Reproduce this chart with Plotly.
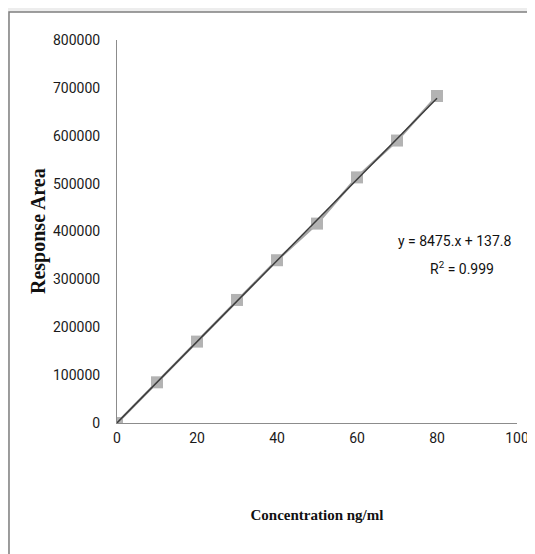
import plotly.graph_objects as go

# Data
concentration = [0, 10, 20, 30, 40, 50, 60, 70, 80]
response_area = [0, 85000, 170000, 257000, 340000, 416500, 513000, 590000, 683000]

# Linear trendline as stated on the chart
slope = 8475.0
intercept = 137.8
trend_x = [0, 80]
trend_y = [slope * x + intercept for x in trend_x]

x_ticks = [0, 20, 40, 60, 80, 100]
y_ticks = [0, 100000, 200000, 300000, 400000, 500000, 600000, 700000, 800000]

# page body has an 8px margin; figure sized to fit the window
OFF = 8
W, H = 535 - OFF, 554 - OFF
L, R, T, B = 117 - OFF, 18, 40 - OFF, 131
pw, ph = W - L - R, H - T - B

def px_x(p):  # p in window pixels
    return (p - OFF - L) / pw

def px_y(p):
    return 1 - (p - OFF - T) / ph

narrow = "Roboto, Liberation Sans, sans-serif"
serif = "Liberation Serif, Times New Roman, serif"

fig = go.Figure()
fig.add_trace(go.Scatter(
    x=concentration, y=response_area, mode="lines+markers",
    line=dict(color="#a6a6a6", width=2.5),
    marker=dict(symbol="square", size=12, color="#b3b3b3"),
    showlegend=False,
))
fig.add_trace(go.Scatter(
    x=trend_x, y=trend_y, mode="lines",
    line=dict(color="#3c3c3c", width=1.5),
    showlegend=False,
))

fig.update_layout(
    width=W, height=H,
    margin=dict(l=L, r=R, t=T, b=B, autoexpand=False),
    paper_bgcolor="#ededed",
    plot_bgcolor="white",
    xaxis=dict(
        range=[0, 100], tickvals=x_ticks, ticktext=[str(v) for v in x_ticks],
        showgrid=False, zeroline=False, showline=True, linecolor="#8c8c8c", linewidth=1,
        ticks="", ticklabelstandoff=2, automargin=False,
        tickfont=dict(family=narrow, size=14, color="#1a1a1a"),
        title=dict(text="<b>Concentration ng/ml</b>", font=dict(family=serif, size=15, color="#111111"),
                   standoff=64),
    ),
    yaxis=dict(
        range=[0, 800000], tickvals=y_ticks, ticktext=[str(v) for v in y_ticks],
        showgrid=False, zeroline=False, showline=True, linecolor="#8c8c8c", linewidth=1,
        ticks="", ticklabelstandoff=13, automargin=False,
        tickfont=dict(family=narrow, size=14, color="#1a1a1a"),
    ),
    shapes=[
        dict(type="rect", xref="paper", yref="paper", layer="below",
             x0=px_x(9), x1=px_x(560), y0=px_y(580), y1=px_y(12),
             fillcolor="white", line=dict(color="#7f7f7f", width=1.5)),
    ],
    annotations=[
        dict(text="<b>Response Area</b>", xref="paper", yref="paper",
             x=px_x(39), y=px_y(231), xanchor="center", yanchor="middle", textangle=-90,
             showarrow=False, font=dict(family=serif, size=20, color="#111111")),
        dict(text="y = 8475.x + 137.8", xref="paper", yref="paper",
             x=px_x(455), y=px_y(241), xanchor="center", yanchor="middle", showarrow=False,
             font=dict(family=narrow, size=14, color="#111111")),
        dict(text="R<sup>2</sup> = 0.999", xref="paper", yref="paper",
             x=px_x(462), y=px_y(268), xanchor="center", yanchor="middle", showarrow=False,
             font=dict(family=narrow, size=14, color="#111111")),
    ],
)

fig.write_html("out.html")
